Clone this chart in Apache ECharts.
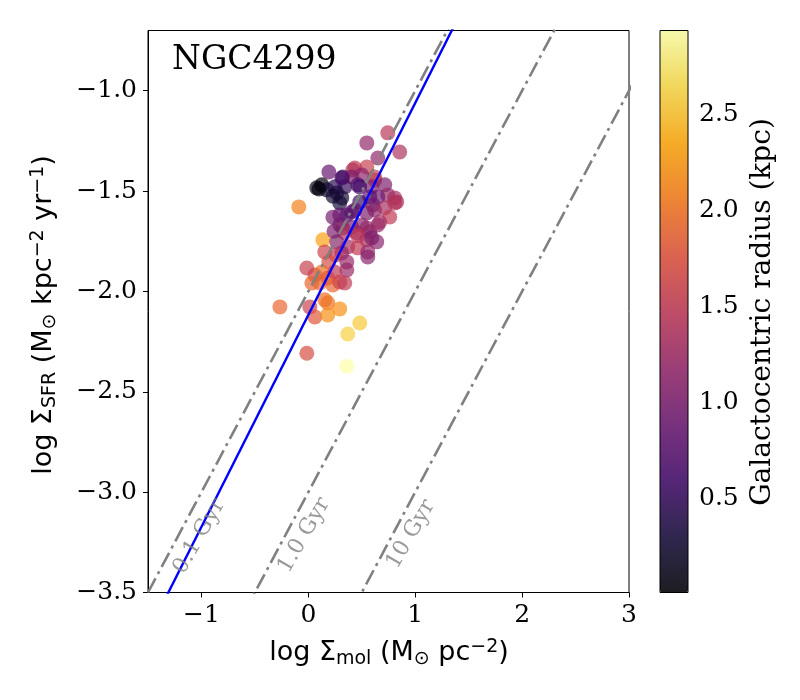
<!DOCTYPE html>
<html>
<head>
<meta charset="utf-8">
<script src="https://cdn.jsdelivr.net/npm/echarts@6/dist/echarts.min.js"></script>
<style>
  html, body { margin: 0; padding: 0; background: #fff; }
  #main { width: 800px; height: 700px; }
</style>
</head>
<body>
<div id="main"></div>
<script>
// one entry per region: log Sigma_mol, log Sigma_SFR, galactocentric radius (kpc)
var logMol = [0.743, 0.547, 0.855, 0.650, 0.547, 0.435, 0.416, 0.621, 0.192, 0.322,
              0.407, 0.500, 0.621, 0.126, 0.079, 0.173, 0.248, 0.341, 0.463, 0.593,
              0.715, 0.313, 0.481, 0.313, 0.266, 0.230, 0.743, 0.808, 0.650, 0.575,
              0.827, 0.603, 0.481, 0.294, 0.294, 0.407, 0.360, 0.435, 0.547, 0.621,
              0.715, 0.762, 0.808, 0.668, 0.294, 0.407, 0.500, 0.575, 0.650, 0.322,
              0.547, 0.453, 0.463, 0.341, 0.640, 0.547, 0.136, 0.266, 0.369, 0.463,
              0.556, 0.556, 0.313, 0.154, 0.593, 0.257, 0.192, 0.360, -0.014, 0.061,
              0.126, 0.182, 0.360, 0.248, 0.033, 0.107, 0.229, 0.294, 0.341, -0.089,
              -0.266, 0.014, 0.061, 0.154, 0.182, 0.182, 0.294, 0.481, 0.369, -0.014,
              0.360, 0.230, 0.240, 0.100];
var logSfr = [-1.210, -1.260, -1.305, -1.335, -1.380, -1.385, -1.395, -1.430, -1.405, -1.430,
              -1.430, -1.420, -1.445, -1.469, -1.484, -1.494, -1.479, -1.479, -1.469, -1.479,
              -1.469, -1.435, -1.479, -1.534, -1.509, -1.525, -1.519, -1.534, -1.529, -1.529,
              -1.554, -1.569, -1.554, -1.559, -1.619, -1.604, -1.619, -1.594, -1.609, -1.594,
              -1.584, -1.629, -1.559, -1.654, -1.669, -1.679, -1.669, -1.703, -1.669, -1.684,
              -1.684, -1.708, -1.723, -1.708, -1.753, -1.743, -1.743, -1.753, -1.778, -1.783,
              -1.803, -1.828, -1.808, -1.803, -1.733, -1.818, -1.853, -1.853, -1.883, -1.918,
              -1.903, -1.933, -1.893, -1.903, -1.958, -1.958, -1.968, -1.953, -1.958, -1.579,
              -2.077, -2.077, -2.127, -2.042, -2.057, -2.117, -2.087, -2.157, -2.212, -2.308,
              -2.373, -1.630, -1.700, -1.490];
var radius = [1.45, 1.15, 1.35, 1.15, 1.55, 1.50, 1.40, 1.60, 0.85, 0.50,
              1.00, 1.10, 1.50, 0.01, 0.12, 0.30, 0.40, 0.50, 0.70, 1.00,
              1.00, 0.65, 0.60, 0.30, 0.35, 0.25, 1.20, 1.30, 0.90, 0.80,
              1.30, 0.90, 0.55, 0.30, 0.85, 0.70, 0.75, 0.80, 1.00, 1.10,
              1.30, 1.50, 1.40, 1.30, 0.90, 1.00, 1.10, 1.10, 1.20, 1.10,
              1.20, 1.20, 1.50, 1.40, 1.10, 1.30, 2.30, 1.10, 1.30, 1.50,
              1.20, 1.10, 1.20, 1.60, 1.00, 1.50, 1.70, 1.20, 1.55, 1.60,
              2.00, 1.80, 1.20, 1.50, 1.90, 1.90, 1.90, 1.60, 1.50, 2.10,
              1.90, 1.60, 1.80, 2.00, 2.00, 2.20, 2.20, 2.55, 2.60, 1.70,
              2.94, 0.95, 1.00, 0.05];

var xTicks = [-1, 0, 1, 2, 3];
var yTicks = [-3.5, -3, -2.5, -2, -1.5, -1];
var cbarTicks = [0.5, 1, 1.5, 2, 2.5];
var radiusMin = 0.01, radiusMax = 2.94;

// constant depletion time lines (Gyr) and their labels
var depletionGyr = [0.1, 1, 10];
var depletionText = ['0.1 Gyr', '1.0 Gyr', '10 Gyr'];
var depletionTextX = [-1.02, -0.04, 0.96];
var depletionTextY = [-3.22, -3.215, -3.21];

// fitted relation
var fitSlope = 1.056, fitIntercept = -2.117;

var inferno = ['#000004', '#160b39', '#420a68', '#6a176e', '#932667', '#bc3754',
               '#dd513a', '#f37819', '#fca50a', '#f6d746', '#fcffa4'];

var xMin = -1.5, xMax = 3, yMin = -3.5, yMax = -0.7;

function minus(s) { return String(s).replace('-', '\u2212'); }

var points = logMol.map(function (x, i) { return [x, logSfr[i], radius[i]]; });

var series = [{
  type: 'scatter',
  data: points,
  symbolSize: 15,
  z: 2
}];

depletionGyr.forEach(function (t) {
  var off = -3 - Math.log10(t); // log SFR = log mol + 6 - log10(t * 1e9)
  series.push({
    type: 'line',
    data: [[xMin, xMin + off], [xMax + 1, xMax + 1 + off]],
    showSymbol: false,
    clip: true,
    silent: true,
    z: 3,
    lineStyle: { color: '#808080', width: 2.6, type: [16, 5, 3, 5] }
  });
});

series.push({
  type: 'line',
  data: [[xMin - 0.5, fitSlope * (xMin - 0.5) + fitIntercept],
         [xMax, fitSlope * xMax + fitIntercept]],
  showSymbol: false,
  clip: true,
  silent: true,
  z: 4,
  lineStyle: { color: '#0000ff', width: 2.4, type: 'solid' }
});

series.push({
  type: 'scatter',
  symbolSize: 0,
  silent: true,
  z: 5,
  data: depletionText.map(function (s, i) {
    return { value: [depletionTextX[i], depletionTextY[i]], name: s };
  }),
  label: {
    show: true,
    position: 'inside',
    formatter: '{b}',
    rotate: 60,
    color: '#808080',
    fontFamily: 'DejaVu Serif',
    fontSize: 22
  }
});

var chart = echarts.init(document.getElementById('main'));

var sans = 'DejaVu Sans', serif = 'DejaVu Serif';
var richLabel = {
  m: { fontFamily: sans, fontSize: 27, color: '#000' },
  sub: { fontFamily: sans, fontSize: 19, color: '#000', verticalAlign: 'bottom', padding: [12, 0, 0, 0] },
  sup: { fontFamily: sans, fontSize: 19, color: '#000', verticalAlign: 'top', padding: [0, 0, 10, 0] }
};

var option = {
  animation: false,
  backgroundColor: '#fff',
  grid: [
    { left: 148, top: 30.5, width: 481, height: 562, show: true, borderColor: '#000', borderWidth: 1 },
    { left: 660, top: 30.5, width: 28, height: 562, show: false }
  ],
  xAxis: [{
    type: 'value', gridIndex: 0, min: xMin, max: xMax,
    axisLine: { show: true, onZero: false, lineStyle: { color: '#000', width: 1 } },
    axisTick: { show: true, inside: false, length: 5, customValues: xTicks, lineStyle: { color: '#000' } },
    axisLabel: { customValues: xTicks, margin: 10, color: '#000', fontFamily: serif, fontSize: 25,
                 formatter: function (v) { return minus(v); } },
    splitLine: { show: false }
  }, {
    type: 'value', gridIndex: 1, min: 0, max: 1, show: false
  }],
  yAxis: [{
    type: 'value', gridIndex: 0, min: yMin, max: yMax,
    axisLine: { show: true, onZero: false, lineStyle: { color: '#000', width: 1 } },
    axisTick: { show: true, inside: false, length: 5, customValues: yTicks, lineStyle: { color: '#000' } },
    axisLabel: { customValues: yTicks, margin: 11, color: '#000', fontFamily: serif, fontSize: 25,
                 formatter: function (v) { return minus(v.toFixed(1)); } },
    splitLine: { show: false }
  }, {
    type: 'value', gridIndex: 1, min: radiusMin, max: radiusMax, position: 'right',
    axisLine: { show: false },
    axisTick: { show: true, inside: false, length: 4, customValues: cbarTicks, lineStyle: { color: '#000' } },
    axisLabel: { customValues: cbarTicks, margin: 11, color: '#000', fontFamily: serif, fontSize: 25,
                 formatter: function (v) { return v.toFixed(1); } },
    splitLine: { show: false }
  }],
  visualMap: {
    type: 'continuous',
    seriesIndex: 0,
    dimension: 2,
    min: radiusMin,
    max: radiusMax,
    calculable: false,
    hoverLink: false,
    left: 660,
    top: 30.5,
    padding: 0,
    itemWidth: 28,
    itemHeight: 562,
    text: null,
    showLabel: false,
    inRange: { color: inferno, colorAlpha: [0.86, 0.86] }
  },
  graphic: [
    { type: 'rect', z: 100, silent: true,
      shape: { x: 660, y: 30.5, width: 28, height: 562 },
      style: { fill: 'none', stroke: '#000', lineWidth: 1 } },
    { type: 'text', z: 100, silent: true,
      style: { x: 172, y: 60, text: 'NGC4299', fill: '#000', font: '33px "DejaVu Serif"',
               textAlign: 'left', textVerticalAlign: 'middle' } },
    { type: 'text', z: 100, silent: true,
      style: { x: 389, y: 653, textAlign: 'center', textVerticalAlign: 'middle',
               text: '{m|log \u03a3}{sub|mol}{m| (M}{sub|\u2299}{m| pc}{sup|\u22122}{m|)}',
               rich: richLabel } },
    { type: 'text', z: 100, silent: true, x: 44, y: 315, rotation: Math.PI / 2,
      style: { x: 0, y: 0, textAlign: 'center', textVerticalAlign: 'middle',
               text: '{m|log \u03a3}{sub|SFR}{m| (M}{sub|\u2299}{m| kpc}{sup|\u22122}{m| yr}{sup|\u22121}{m|)}',
               rich: richLabel } },
    { type: 'text', z: 100, silent: true, x: 763, y: 312, rotation: Math.PI / 2,
      style: { x: 0, y: 0, textAlign: 'center', textVerticalAlign: 'middle',
               text: 'Galactocentric radius (kpc)', fill: '#000', font: '28px "DejaVu Serif"' } }
  ],
  series: series
};

chart.setOption(option);
</script>
</body>
</html>
